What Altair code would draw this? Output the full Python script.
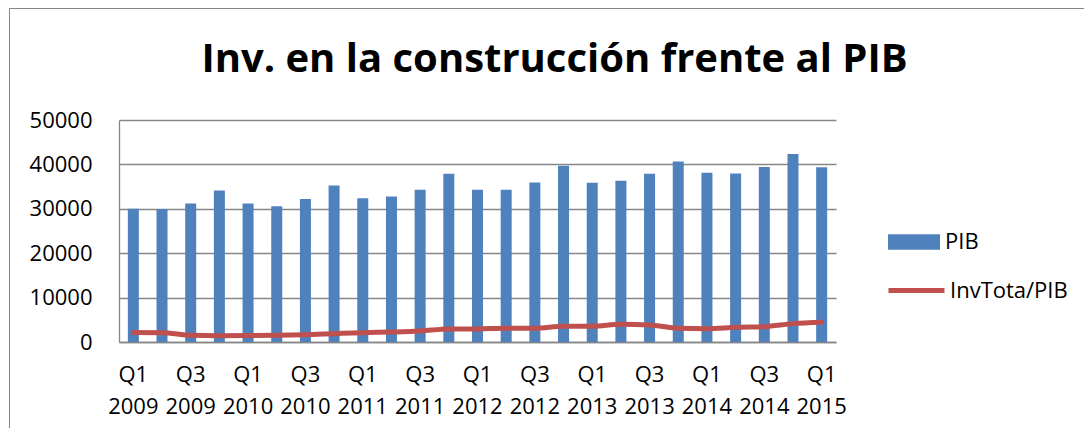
import altair as alt
import pandas as pd

quarters = ["Q1 2009", "Q2 2009", "Q3 2009", "Q4 2009",
            "Q1 2010", "Q2 2010", "Q3 2010", "Q4 2010",
            "Q1 2011", "Q2 2011", "Q3 2011", "Q4 2011",
            "Q1 2012", "Q2 2012", "Q3 2012", "Q4 2012",
            "Q1 2013", "Q2 2013", "Q3 2013", "Q4 2013",
            "Q1 2014", "Q2 2014", "Q3 2014", "Q4 2014",
            "Q1 2015"]
pib = [30000, 29950, 31190, 34120, 31190, 30600, 32180, 35250, 32400, 32770,
       34280, 37890, 34280, 34280, 35940, 39700, 35870, 36320, 37890, 40670,
       38120, 37970, 39400, 42340, 39330]
inv = [2120, 2100, 1510, 1430, 1450, 1500, 1650, 1880, 2100, 2250,
       2480, 2930, 2950, 3090, 3090, 3540, 3540, 3990, 3840, 3090,
       3010, 3310, 3460, 4140, 4440]
y_ticks = [0, 10000, 20000, 30000, 40000, 50000]

df = pd.DataFrame({"q": quarters, "pib": pib, "inv": inv,
                   "s1": "PIB", "s2": "InvTota/PIB"})

FONT = "Open Sans"
GRAY = "#868686"

x = alt.X("q:N", sort=quarters,
          scale=alt.Scale(paddingInner=0.6165, paddingOuter=0.30825),
          axis=alt.Axis(title=None, labelAngle=0, ticks=False, grid=False,
                        labelExpr="test(/^Q[13]/, datum.value) ? split(datum.value, ' ') : ''",
                        labelOverlap=False, labelBound=False, labelPadding=22,
                        labelLineHeight=32, labelBaseline="top",
                        domainColor=GRAY, domainWidth=1.3))

yscale = alt.Scale(domain=[0, 50000], nice=False)
yaxis = alt.Axis(title=None, values=y_ticks, format="d", ticks=False,
                 labelPadding=27, gridColor=GRAY, gridWidth=1.3,
                 domainColor=GRAY, domainWidth=1.3)

bars = alt.Chart(df).mark_bar(color="#4F81BD").encode(
    x=x,
    y=alt.Y("pib:Q", scale=yscale, axis=yaxis),
    fill=alt.Fill("s1:N", scale=alt.Scale(domain=["PIB"], range=["#4F81BD"]),
                  legend=alt.Legend(title=None, orient="none", legendX=769, legendY=96,
                                    symbolType="M-1,-0.3L1,-0.3L1,0.3L-1,0.3Z",
                                    symbolSize=2704, symbolStrokeWidth=0,
                                    labelOffset=5, padding=0)),
)

line = alt.Chart(df).mark_line(strokeWidth=5, interpolate="monotone", strokeCap="round").encode(
    x=alt.X("q:N", sort=quarters, bandPosition=0.5),
    y=alt.Y("inv:Q", scale=yscale),
    stroke=alt.Stroke("s2:N", scale=alt.Scale(domain=["InvTota/PIB"], range=["#C0504D"]),
                      legend=alt.Legend(title=None, orient="none", legendX=767, legendY=140,
                                        symbolType="stroke", symbolSize=3136,
                                        symbolStrokeWidth=5, labelOffset=3, padding=0)),
)

frame = alt.Chart(pd.DataFrame({"a": [0]})).mark_rect(
    fill="transparent", stroke=GRAY, strokeWidth=1
).encode(x=alt.value(-109.5), x2=alt.value(1500), y=alt.value(-111.5), y2=alt.value(600))

chart = alt.layer(frame, bars, line).properties(
    width=717, height=222,
    autosize=alt.AutoSizeParams(type="none"),
    padding={"left": 111, "top": 112, "right": 248, "bottom": 86},
    title=alt.TitleParams("Inv. en la construcción frente al PIB", font=FONT, fontSize=40,
                          fontWeight="bold", color="black", anchor="middle", dx=77,
                          baseline="alphabetic", offset=-104),
).configure_view(strokeWidth=0).configure_axis(
    labelFont=FONT, labelFontSize=22, labelColor="black"
).configure_legend(
    labelFont=FONT, labelFontSize=22, labelColor="black"
)

chart.save("out.html", embed_options={"renderer": "svg", "actions": False})
